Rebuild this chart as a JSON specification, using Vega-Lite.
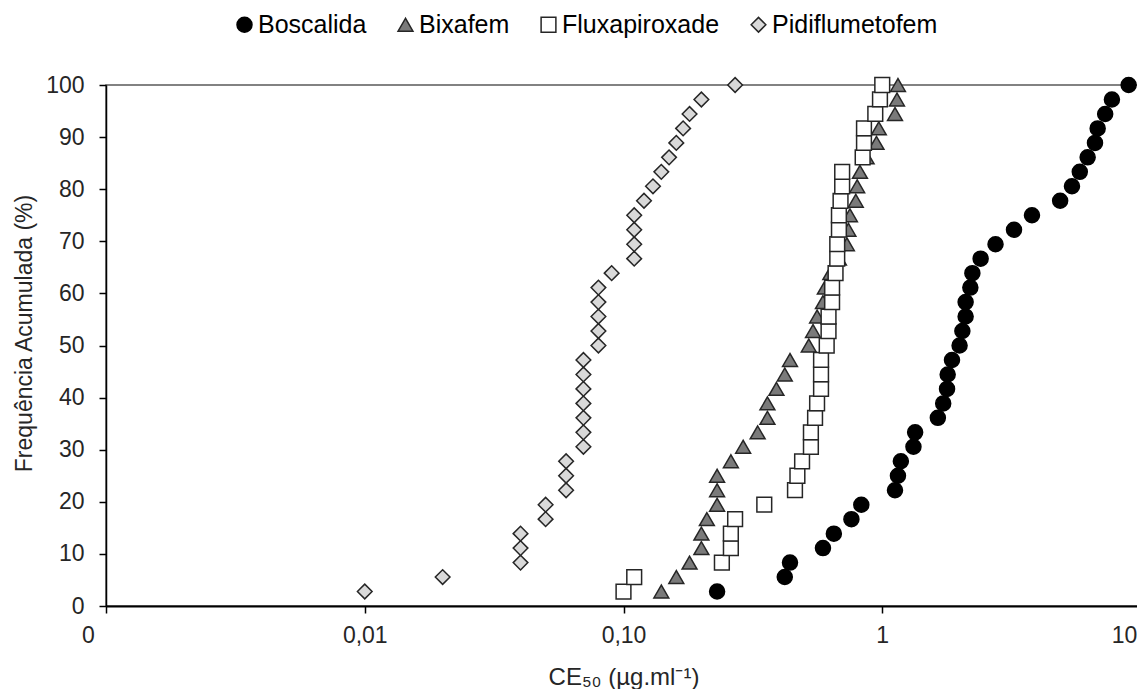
{
  "$schema": "https://vega.github.io/schema/vega-lite/v6.json",
  "width": 1035,
  "height": 521,
  "autosize": {"type": "none"},
  "padding": {"left": 106, "top": 85, "right": 0, "bottom": 83},
  "background": "white",
  "config": {
    "view": {"stroke": "#595959", "strokeWidth": 1.5},
    "font": "Liberation Sans",
    "legend": {
      "title": null, "orient": "none", "direction": "horizontal", "legendX": 126, "legendY": -73,
      "labelFontSize": 25, "labelColor": "#000000", "labelOffset": 1, "columnPadding": 26,
      "symbolStrokeWidth": 1.5, "padding": 0, "labelLimit": 400
    }
  },
  "datasets": {
    "pts": [
      {"s": "Boscalida", "v": 0.23, "p": 2.78}, {"s": "Boscalida", "v": 0.42, "p": 5.56}, {"s": "Boscalida", "v": 0.44, "p": 8.33},
      {"s": "Boscalida", "v": 0.59, "p": 11.11}, {"s": "Boscalida", "v": 0.65, "p": 13.89}, {"s": "Boscalida", "v": 0.76, "p": 16.67},
      {"s": "Boscalida", "v": 0.83, "p": 19.44}, {"s": "Boscalida", "v": 1.12, "p": 22.22}, {"s": "Boscalida", "v": 1.15, "p": 25},
      {"s": "Boscalida", "v": 1.18, "p": 27.78}, {"s": "Boscalida", "v": 1.32, "p": 30.56}, {"s": "Boscalida", "v": 1.34, "p": 33.33},
      {"s": "Boscalida", "v": 1.64, "p": 36.11}, {"s": "Boscalida", "v": 1.72, "p": 38.89}, {"s": "Boscalida", "v": 1.78, "p": 41.67},
      {"s": "Boscalida", "v": 1.79, "p": 44.44}, {"s": "Boscalida", "v": 1.86, "p": 47.22}, {"s": "Boscalida", "v": 1.99, "p": 50},
      {"s": "Boscalida", "v": 2.04, "p": 52.78}, {"s": "Boscalida", "v": 2.1, "p": 55.56}, {"s": "Boscalida", "v": 2.1, "p": 58.33},
      {"s": "Boscalida", "v": 2.19, "p": 61.11}, {"s": "Boscalida", "v": 2.23, "p": 63.89}, {"s": "Boscalida", "v": 2.4, "p": 66.67},
      {"s": "Boscalida", "v": 2.74, "p": 69.44}, {"s": "Boscalida", "v": 3.23, "p": 72.22}, {"s": "Boscalida", "v": 3.79, "p": 75},
      {"s": "Boscalida", "v": 4.87, "p": 77.78}, {"s": "Boscalida", "v": 5.41, "p": 80.56}, {"s": "Boscalida", "v": 5.8, "p": 83.33},
      {"s": "Boscalida", "v": 6.22, "p": 86.11}, {"s": "Boscalida", "v": 6.64, "p": 88.89}, {"s": "Boscalida", "v": 6.8, "p": 91.67},
      {"s": "Boscalida", "v": 7.27, "p": 94.44}, {"s": "Boscalida", "v": 7.72, "p": 97.22}, {"s": "Boscalida", "v": 8.96, "p": 100},
      {"s": "Bixafem", "v": 0.14, "p": 2.78}, {"s": "Bixafem", "v": 0.16, "p": 5.56}, {"s": "Bixafem", "v": 0.18, "p": 8.33},
      {"s": "Bixafem", "v": 0.2, "p": 11.11}, {"s": "Bixafem", "v": 0.2, "p": 13.89}, {"s": "Bixafem", "v": 0.21, "p": 16.67},
      {"s": "Bixafem", "v": 0.23, "p": 19.44}, {"s": "Bixafem", "v": 0.23, "p": 22.22}, {"s": "Bixafem", "v": 0.23, "p": 25},
      {"s": "Bixafem", "v": 0.26, "p": 27.78}, {"s": "Bixafem", "v": 0.29, "p": 30.56}, {"s": "Bixafem", "v": 0.33, "p": 33.33},
      {"s": "Bixafem", "v": 0.36, "p": 36.11}, {"s": "Bixafem", "v": 0.36, "p": 38.89}, {"s": "Bixafem", "v": 0.39, "p": 41.67},
      {"s": "Bixafem", "v": 0.42, "p": 44.44}, {"s": "Bixafem", "v": 0.44, "p": 47.22}, {"s": "Bixafem", "v": 0.52, "p": 50},
      {"s": "Bixafem", "v": 0.54, "p": 52.78}, {"s": "Bixafem", "v": 0.56, "p": 55.56}, {"s": "Bixafem", "v": 0.59, "p": 58.33},
      {"s": "Bixafem", "v": 0.6, "p": 61.11}, {"s": "Bixafem", "v": 0.63, "p": 63.89}, {"s": "Bixafem", "v": 0.68, "p": 66.67},
      {"s": "Bixafem", "v": 0.73, "p": 69.44}, {"s": "Bixafem", "v": 0.74, "p": 72.22}, {"s": "Bixafem", "v": 0.75, "p": 75},
      {"s": "Bixafem", "v": 0.79, "p": 77.78}, {"s": "Bixafem", "v": 0.8, "p": 80.56}, {"s": "Bixafem", "v": 0.82, "p": 83.33},
      {"s": "Bixafem", "v": 0.87, "p": 86.11}, {"s": "Bixafem", "v": 0.95, "p": 88.89}, {"s": "Bixafem", "v": 0.97, "p": 91.67},
      {"s": "Bixafem", "v": 1.12, "p": 94.44}, {"s": "Bixafem", "v": 1.14, "p": 97.22}, {"s": "Bixafem", "v": 1.15, "p": 100},
      {"s": "Fluxapiroxade", "v": 0.1, "p": 2.78}, {"s": "Fluxapiroxade", "v": 0.11, "p": 5.56}, {"s": "Fluxapiroxade", "v": 0.24, "p": 8.33},
      {"s": "Fluxapiroxade", "v": 0.26, "p": 11.11}, {"s": "Fluxapiroxade", "v": 0.26, "p": 13.89}, {"s": "Fluxapiroxade", "v": 0.27, "p": 16.67},
      {"s": "Fluxapiroxade", "v": 0.35, "p": 19.44}, {"s": "Fluxapiroxade", "v": 0.46, "p": 22.22}, {"s": "Fluxapiroxade", "v": 0.47, "p": 25},
      {"s": "Fluxapiroxade", "v": 0.49, "p": 27.78}, {"s": "Fluxapiroxade", "v": 0.53, "p": 30.56}, {"s": "Fluxapiroxade", "v": 0.53, "p": 33.33},
      {"s": "Fluxapiroxade", "v": 0.55, "p": 36.11}, {"s": "Fluxapiroxade", "v": 0.56, "p": 38.89}, {"s": "Fluxapiroxade", "v": 0.58, "p": 41.67},
      {"s": "Fluxapiroxade", "v": 0.58, "p": 44.44}, {"s": "Fluxapiroxade", "v": 0.58, "p": 47.22}, {"s": "Fluxapiroxade", "v": 0.61, "p": 50},
      {"s": "Fluxapiroxade", "v": 0.62, "p": 52.78}, {"s": "Fluxapiroxade", "v": 0.62, "p": 55.56}, {"s": "Fluxapiroxade", "v": 0.64, "p": 58.33},
      {"s": "Fluxapiroxade", "v": 0.64, "p": 61.11}, {"s": "Fluxapiroxade", "v": 0.66, "p": 63.89}, {"s": "Fluxapiroxade", "v": 0.67, "p": 66.67},
      {"s": "Fluxapiroxade", "v": 0.67, "p": 69.44}, {"s": "Fluxapiroxade", "v": 0.68, "p": 72.22}, {"s": "Fluxapiroxade", "v": 0.68, "p": 75},
      {"s": "Fluxapiroxade", "v": 0.69, "p": 77.78}, {"s": "Fluxapiroxade", "v": 0.7, "p": 80.56}, {"s": "Fluxapiroxade", "v": 0.7, "p": 83.33},
      {"s": "Fluxapiroxade", "v": 0.84, "p": 86.11}, {"s": "Fluxapiroxade", "v": 0.85, "p": 88.89}, {"s": "Fluxapiroxade", "v": 0.85, "p": 91.67},
      {"s": "Fluxapiroxade", "v": 0.94, "p": 94.44}, {"s": "Fluxapiroxade", "v": 0.98, "p": 97.22}, {"s": "Fluxapiroxade", "v": 1.0, "p": 100},
      {"s": "Pidiflumetofem", "v": 0.01, "p": 2.78}, {"s": "Pidiflumetofem", "v": 0.02, "p": 5.56}, {"s": "Pidiflumetofem", "v": 0.04, "p": 8.33},
      {"s": "Pidiflumetofem", "v": 0.04, "p": 11.11}, {"s": "Pidiflumetofem", "v": 0.04, "p": 13.89}, {"s": "Pidiflumetofem", "v": 0.05, "p": 16.67},
      {"s": "Pidiflumetofem", "v": 0.05, "p": 19.44}, {"s": "Pidiflumetofem", "v": 0.06, "p": 22.22}, {"s": "Pidiflumetofem", "v": 0.06, "p": 25},
      {"s": "Pidiflumetofem", "v": 0.06, "p": 27.78}, {"s": "Pidiflumetofem", "v": 0.07, "p": 30.56}, {"s": "Pidiflumetofem", "v": 0.07, "p": 33.33},
      {"s": "Pidiflumetofem", "v": 0.07, "p": 36.11}, {"s": "Pidiflumetofem", "v": 0.07, "p": 38.89}, {"s": "Pidiflumetofem", "v": 0.07, "p": 41.67},
      {"s": "Pidiflumetofem", "v": 0.07, "p": 44.44}, {"s": "Pidiflumetofem", "v": 0.07, "p": 47.22}, {"s": "Pidiflumetofem", "v": 0.08, "p": 50},
      {"s": "Pidiflumetofem", "v": 0.08, "p": 52.78}, {"s": "Pidiflumetofem", "v": 0.08, "p": 55.56}, {"s": "Pidiflumetofem", "v": 0.08, "p": 58.33},
      {"s": "Pidiflumetofem", "v": 0.08, "p": 61.11}, {"s": "Pidiflumetofem", "v": 0.09, "p": 63.89}, {"s": "Pidiflumetofem", "v": 0.11, "p": 66.67},
      {"s": "Pidiflumetofem", "v": 0.11, "p": 69.44}, {"s": "Pidiflumetofem", "v": 0.11, "p": 72.22}, {"s": "Pidiflumetofem", "v": 0.11, "p": 75},
      {"s": "Pidiflumetofem", "v": 0.12, "p": 77.78}, {"s": "Pidiflumetofem", "v": 0.13, "p": 80.56}, {"s": "Pidiflumetofem", "v": 0.14, "p": 83.33},
      {"s": "Pidiflumetofem", "v": 0.15, "p": 86.11}, {"s": "Pidiflumetofem", "v": 0.16, "p": 88.89}, {"s": "Pidiflumetofem", "v": 0.17, "p": 91.67},
      {"s": "Pidiflumetofem", "v": 0.18, "p": 94.44}, {"s": "Pidiflumetofem", "v": 0.2, "p": 97.22}, {"s": "Pidiflumetofem", "v": 0.27, "p": 100}
    ]
  },
  "data": {"name": "pts"},
  "mark": {"type": "point", "filled": true, "clip": false, "strokeWidth": 1.5, "opacity": 1},
  "encoding": {
    "x": {
      "field": "v", "type": "quantitative",
      "scale": {"type": "log", "domain": [0.001, 10], "nice": false},
      "axis": {
        "values": [0.001, 0.01, 0.1, 1, 10],
        "labelExpr": "datum.value < 0.002 ? '0' : datum.value < 0.05 ? '0,01' : datum.value < 0.5 ? '0,10' : datum.value < 5 ? '1' : '10'",
        "labelFlush": false, "labelOverlap": false, "labelBound": false,
        "labelOffset": {"condition": [{"test": "datum.value < 0.002", "value": -18}, {"test": "datum.value > 5", "value": -17}], "value": 0},
        "labelFontSize": 23, "labelColor": "#262626", "labelPadding": 11,
        "tickSize": 7, "tickColor": "#000000", "tickWidth": 1.5,
        "domainColor": "#000000", "domainWidth": 2,
        "grid": false,
        "title": "CE₅₀ (µg.ml⁻¹)", "titleFontSize": 24, "titleFontWeight": "normal", "titleColor": "#262626",
        "titleY": 71, "titleBaseline": "middle"
      }
    },
    "y": {
      "field": "p", "type": "quantitative",
      "scale": {"domain": [0, 100], "nice": false},
      "axis": {
        "values": [0, 10, 20, 30, 40, 50, 60, 70, 80, 90, 100],
        "labelFontSize": 23, "labelColor": "#262626", "labelPadding": 15,
        "tickSize": 7, "tickColor": "#000000", "tickWidth": 1.5,
        "domainColor": "#000000", "domainWidth": 1.5,
        "grid": false,
        "title": "Frequência Acumulada (%)", "titleFontSize": 23, "titleFontWeight": "normal", "titleColor": "#262626",
        "titleX": -82, "titleY": 248, "titleAngle": -90, "titleAlign": "center", "titleBaseline": "middle"
      }
    },
    "shape": {
      "field": "s", "type": "nominal",
      "scale": {"domain": ["Boscalida", "Bixafem", "Fluxapiroxade", "Pidiflumetofem"], "range": ["circle", "triangle-up", "square", "diamond"]}
    },
    "fill": {
      "field": "s", "type": "nominal",
      "scale": {"domain": ["Boscalida", "Bixafem", "Fluxapiroxade", "Pidiflumetofem"], "range": ["#000000", "#7a7a7a", "#ffffff", "#d9d9d9"]}
    },
    "stroke": {
      "field": "s", "type": "nominal",
      "scale": {"domain": ["Boscalida", "Bixafem", "Fluxapiroxade", "Pidiflumetofem"], "range": ["#000000", "#262626", "#262626", "#262626"]}
    },
    "size": {
      "field": "s", "type": "nominal",
      "scale": {"domain": ["Boscalida", "Bixafem", "Fluxapiroxade", "Pidiflumetofem"], "range": [225, 215, 190, 170]}
    }
  }
}
